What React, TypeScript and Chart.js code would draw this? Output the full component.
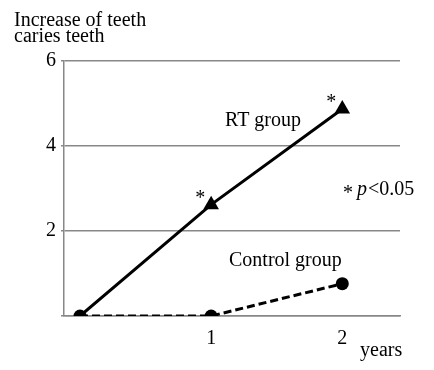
import React, { useEffect, useRef } from "react";
import { Chart, registerables } from "chart.js";

Chart.register(...registerables);

const years = [0, 1, 2];
const rtGroup = [0, 2.62, 4.87];
const controlGroup = [0, 0, 0.76];
const yTicks = [2, 4, 6];
const xTicks = [1, 2];
const significant = [false, true, true];

const FONT = "'Liberation Serif', 'Times New Roman', serif";

export default function App() {
  const ref = useRef<HTMLCanvasElement>(null);
  useEffect(() => {
    document.body.style.margin = "0";
    const ctx = ref.current!;
    const textPlugin = {
      id: "texts",
      afterDraw(chart: any) {
        const c = chart.ctx;
        const xs = chart.scales.x;
        const ys = chart.scales.y;
        c.save();
        c.fillStyle = "#000";
        c.font = `20px ${FONT}`;
        c.textBaseline = "alphabetic";
        c.textAlign = "left";
        c.fillText("Increase of teeth", 14, 26);
        c.fillText("caries teeth", 14, 42);
        c.fillText("years", 360, 356);
        c.fillText("RT group", 225, 126);
        c.fillText("Control group", 229, 266);
        c.fillText("*", 343, 199);
        c.font = `italic 20px ${FONT}`;
        c.fillText("p", 357, 195);
        const pw = c.measureText("p").width;
        c.font = `20px ${FONT}`;
        c.fillText("<0.05", 357 + pw + 1, 195);
        c.textAlign = "center";
        years.forEach((yr, i) => {
          if (significant[i]) {
            const px = xs.getPixelForValue(yr) - 11;
            const py = ys.getPixelForValue(rtGroup[i]) - 1;
            c.fillText("*", px, py);
          }
        });
        c.restore();
      },
    };
    const chart = new Chart(ctx, {
      type: "line",
      data: {
        datasets: [
          {
            label: "RT group",
            data: years.map((x, i) => ({ x, y: rtGroup[i] })),
            borderColor: "#000",
            backgroundColor: "#000",
            borderWidth: 3,
            pointStyle: "triangle",
            pointRadius: [0, 9, 9] as any,
            pointBorderWidth: 0,
          },
          {
            label: "Control group",
            data: years.map((x, i) => ({ x, y: controlGroup[i] })),
            borderColor: "#000",
            backgroundColor: "#000",
            borderWidth: 3,
            borderDash: [8, 4],
            pointStyle: "circle",
            pointRadius: 6.5,
            pointBorderWidth: 0,
          },
        ],
      },
      options: {
        animation: false,
        responsive: false,
        maintainAspectRatio: false,
        layout: { padding: { left: 0, right: 34, top: 61, bottom: 0 } },
        plugins: { legend: { display: false }, tooltip: { enabled: false } },
        scales: {
          x: {
            type: "linear",
            min: -0.122,
            max: 2.44,
            afterBuildTicks: (s: any) => {
              s.ticks = xTicks.map((v) => ({ value: v }));
            },
            afterFit: (s: any) => {
              s.height = 54;
            },
            grid: { display: false, drawTicks: false },
            border: { display: true, color: "#888", width: 1.5 },
            ticks: {
              color: "#000",
              font: { family: FONT, size: 20 },
              padding: 11,
            },
          },
          y: {
            min: 0,
            max: 6,
            afterBuildTicks: (s: any) => {
              s.ticks = [0, ...yTicks].map((v) => ({ value: v }));
            },
            afterFit: (s: any) => {
              s.width = 64;
            },
            grid: { color: "#888", lineWidth: 1.5, tickLength: 3 },
            border: { display: true, color: "#888", width: 1.5 },
            ticks: {
              color: "#000",
              font: { family: FONT, size: 20 },
              padding: 5,
              callback: (v: any) => (v === 0 ? "" : String(v)),
            },
          },
        },
      },
      plugins: [textPlugin],
    });
    return () => chart.destroy();
  }, []);
  return (
    <div style={{ position: "relative", width: 434, height: 370, background: "#fff" }}>
      <canvas ref={ref} width={434} height={370} style={{ display: "block" }} />
    </div>
  );
}
